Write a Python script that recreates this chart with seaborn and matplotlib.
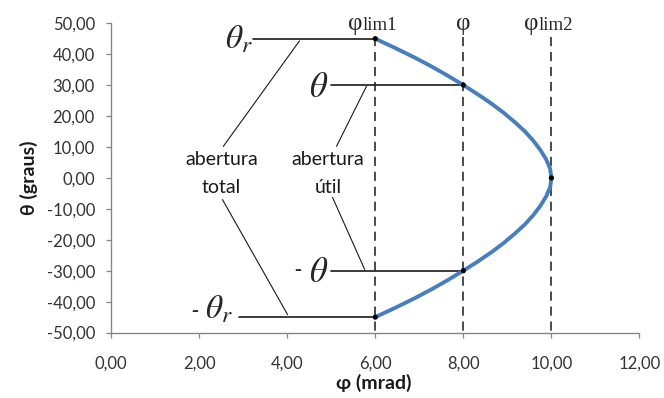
import matplotlib
matplotlib.use("Agg")
import matplotlib.pyplot as plt
from matplotlib.ticker import FuncFormatter
import numpy as np
import pandas as pd
import seaborn as sns

# Angular acceptance curve: phi (mrad) as a function of theta (degrees)
theta_curve = [45, 42, 39, 36, 33, 30, 27, 24, 21, 18, 15, 12, 9, 6, 3, 0,
               -3, -6, -9, -12, -15, -18, -21, -24, -27, -30, -33, -36, -39, -42, -45]
phi_curve = [6.00, 6.45, 6.88, 7.28, 7.65, 8.00, 8.33, 8.64, 8.92, 9.17, 9.40, 9.59, 9.75, 9.88, 9.97, 10.00,
             9.97, 9.88, 9.75, 9.59, 9.40, 9.17, 8.92, 8.64, 8.33, 8.00, 7.65, 7.28, 6.88, 6.45, 6.00]

# Highlighted points on the curve
marker_phi = [6, 8, 10, 8, 6]
marker_theta = [45, 30, 0, -30, -45]

# Reference phi values (dashed verticals) and their labels
limit_phi = [6, 8, 10]
limit_main = ["φ", "φ", "φ"]
limit_sub = ["lim1", "", "lim2"]

x_ticks = [0, 2, 4, 6, 8, 10, 12]
y_ticks = [-50, -40, -30, -20, -10, 0, 10, 20, 30, 40, 50]

sns.set_style("white")
plt.rcParams["font.family"] = ["Lato", "DejaVu Sans"]

fig = plt.figure(figsize=(6.64, 3.98), dpi=100)
ax = fig.add_axes([0.1672, 0.1643, 0.7959, 0.7774])

# dashed verticals at the reference phi values
for x in limit_phi:
    ax.plot([x, x], [45.5, -50], color="#1a1a1a", lw=1.1, ls=(0, (6, 3.8)),
            zorder=2, clip_on=False)

# horizontal leaders from the theta labels to the curve
lead_start = [3.23, 4.99, 4.99, 2.90]
lead_end = [6, 8, 8, 6]
lead_theta = [45, 30, -30, -45]
for x0, x1, y in zip(lead_start, lead_end, lead_theta):
    ax.plot([x0, x1], [y, y], color="#1a1a1a", lw=1.2, zorder=2)

# slanted connectors for the aperture annotations
connectors = [
    ((4.28, 44.3), (2.55, 10.2)),
    ((2.53, -7.0), (4.01, -44.2)),
    ((5.80, 29.6), (5.12, 10.2)),
    ((5.03, -6.3), (5.76, -29.6)),
]
for (xa, ya), (xb, yb) in connectors:
    ax.plot([xa, xb], [ya, yb], color="#1a1a1a", lw=0.8, zorder=2)

df = pd.DataFrame({"phi": phi_curve, "theta": theta_curve})
sns.lineplot(data=df, x="phi", y="theta", sort=False, estimator=None,
             color="#4A7EBB", lw=2.8, ax=ax, zorder=3)
sns.scatterplot(x=marker_phi, y=marker_theta, color="black", s=14,
                edgecolor="none", zorder=5, ax=ax)

# labels of the dashed verticals
for x, m, s in zip(limit_phi, limit_main, limit_sub):
    if s:
        ax.annotate(m, xy=(x, 50), xytext=(-13, -7), textcoords="offset pixels",
                    ha="right", va="baseline", fontsize=18,
                    family="Liberation Serif", annotation_clip=False)
        ax.annotate(s, xy=(x, 50), xytext=(-13, -7), textcoords="offset pixels",
                    ha="left", va="baseline", fontsize=13.5,
                    family="Liberation Serif", annotation_clip=False)
    else:
        ax.annotate(m, xy=(x, 50), xytext=(0, -7), textcoords="offset pixels",
                    ha="center", va="baseline", fontsize=18,
                    family="Liberation Serif", annotation_clip=False)

# theta labels
ax.text(3.22, 41.8, r"$\theta_r$", fontsize=24, ha="right", va="baseline",
        math_fontfamily="stix")
ax.text(4.93, 26.2, r"$\theta$", fontsize=25, ha="right", va="baseline",
        math_fontfamily="stix")
ax.text(4.93, -33.8, r"$\theta$", fontsize=25, ha="right", va="baseline",
        math_fontfamily="stix")
ax.text(4.23, -31.3, "-", fontsize=15, ha="center", va="baseline",
        family="Liberation Serif")
ax.text(2.76, -45.3, r"$\theta_r$", fontsize=24, ha="right", va="baseline",
        math_fontfamily="stix")
ax.text(1.89, -44.7, "-", fontsize=15, ha="center", va="baseline",
        family="Liberation Serif")

# aperture annotations
ann_kw = dict(fontsize=14, ha="center", va="baseline", color="#1a1a1a")
ax.text(2.51, 4.1, "abertura", **ann_kw)
ax.text(2.51, -4.8, "total", **ann_kw)
ax.text(4.93, 4.1, "abertura", **ann_kw)
ax.text(4.93, -4.8, "útil", **ann_kw)

ax.set_xlim(0, 12)
ax.set_ylim(-50, 50)
ax.set_xticks(x_ticks)
ax.set_yticks(y_ticks)
fmt = FuncFormatter(lambda v, _: f"{v:.2f}".replace(".", ","))
ax.xaxis.set_major_formatter(fmt)
ax.yaxis.set_major_formatter(fmt)
ax.tick_params(bottom=True, left=True, direction="out", length=3.6, width=0.9,
               color="#868686", labelsize=12, labelcolor="#333333")
ax.tick_params(axis="x", pad=13)
ax.tick_params(axis="y", pad=8)

for side in ("top", "right"):
    ax.spines[side].set_visible(False)
for side in ("left", "bottom"):
    ax.spines[side].set_color("#868686")
    ax.spines[side].set_linewidth(1.0)

ax.set_xlabel("φ (mrad)", fontsize=14, fontweight="bold", color="#1a1a1a")
ax.set_ylabel("θ (graus)", fontsize=14, fontweight="bold", color="#1a1a1a")
ax.xaxis.set_label_coords(0.4976, -0.133)
ax.yaxis.set_label_coords(-0.138, 0.5)

fig.savefig("out.png", dpi=100)
